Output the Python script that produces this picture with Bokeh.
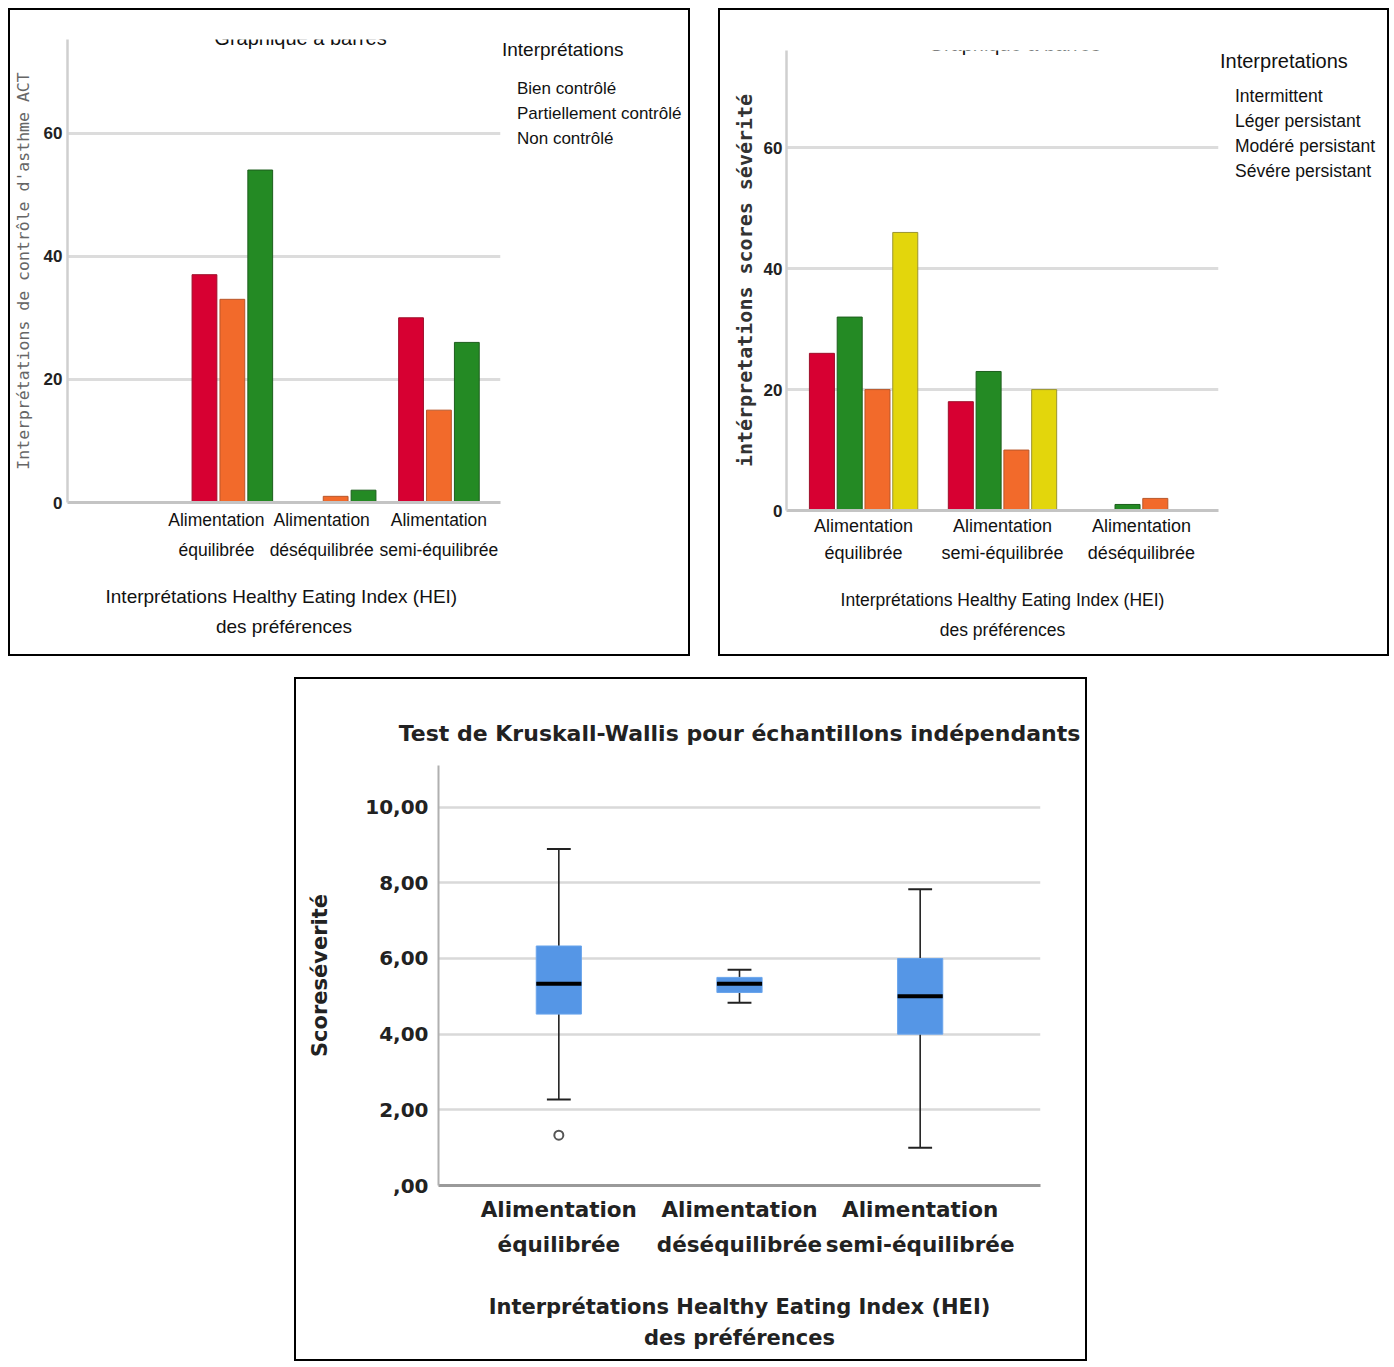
from bokeh.plotting import figure
from bokeh.models import (FactorRange, Range1d, Legend, LegendItem, Label,
                          FixedTicker, ColumnDataSource, Spacer)
from bokeh.layouts import column, row
from bokeh.transform import dodge
from bokeh.embed import file_html
from bokeh.resources import INLINE

# ---------------- data ----------------
# Chart 1 : ACT control interpretations
categories1 = ["Alimentation\néquilibrée", "Alimentation\ndéséquilibrée", "Alimentation\nsemi-équilibrée"]
series1 = ["Bien contrôlé", "Partiellement contrôlé", "Non contrôlé"]
bien_controle = [37, 0, 30]
partiellement_controle = [33, 1, 15]
non_controle = [54, 2, 26]
y_ticks1 = [0, 20, 40, 60]

# Chart 2 : severity score interpretations
categories2 = ["Alimentation\néquilibrée", "Alimentation\nsemi-équilibrée", "Alimentation\ndéséquilibrée"]
series2 = ["Intermittent", "Léger persistant", "Modéré persistant", "Sévére persistant"]
intermittent = [26, 18, 0]
leger_persistant = [32, 23, 1]
modere_persistant = [20, 10, 2]
severe_persistant = [46, 20, 0]
y_ticks2 = [0, 20, 40, 60]

# Chart 3 : Kruskal-Wallis boxplot
categories3 = ["Alimentation\néquilibrée", "Alimentation\ndéséquilibrée", "Alimentation\nsemi-équilibrée"]
whisker_low = [2.27, 4.83, 1.00]
quart1 = [4.53, 5.10, 4.00]
medians = [5.33, 5.33, 5.00]
quart3 = [6.33, 5.50, 6.00]
whisker_high = [8.89, 5.70, 7.83]
outlier_cats = ["Alimentation\néquilibrée"]
outlier_vals = [1.33]
y_ticks3 = [0, 2, 4, 6, 8, 10]
y_tick_labels3 = [",00", "2,00", "4,00", "6,00", "8,00", "10,00"]

# ---------------- styles ----------------
SANS = "'Liberation Sans'"
WIDEB = "'DejaVu Sans'"
MONO = "'DejaVu Sans Mono'"
RED, RED_L = "#D70032", "#9e0f2a"
ORANGE, ORANGE_L = "#F26A2B", "#b8572a"
GREEN, GREEN_L = "#248A24", "#1d5e1d"
YELLOW, YELLOW_L = "#E3D60C", "#9a9430"
BORDER = {"border": "2px solid #000"}
# chart 1: one empty slot before the three categories; label anchor positions (slot units)
PAD1 = 0.096
LABEL_POS1 = [1.346, 2.365, 3.5]


def style_common(p):
    p.outline_line_color = None
    p.xgrid.grid_line_color = None
    p.ygrid.grid_line_color = "#dcdcdc"
    p.ygrid.grid_line_width = 3
    p.yaxis.axis_line_color = "#cfcfcf"
    p.yaxis.axis_line_width = 2.5
    for ax in (p.xaxis, p.yaxis):
        ax.major_tick_line_color = None
        ax.minor_tick_line_color = None
        ax.major_tick_out = 0
        ax.major_tick_in = 0
    p.yaxis.major_label_text_font = SANS
    p.yaxis.major_label_text_font_style = "bold"
    p.yaxis.major_label_text_font_size = "17px"
    p.yaxis.major_label_text_color = "#222"


def style_xaxis(ax, tick_size, tick_lh, tick_standoff, lab_size, lab_lh, lab_standoff):
    ax.axis_line_color = "#c4c4c4"
    ax.axis_line_width = 3
    ax.major_label_text_font = SANS
    ax.major_label_text_font_size = tick_size
    ax.major_label_text_color = "#111"
    ax.major_label_text_line_height = tick_lh
    ax.major_label_standoff = tick_standoff
    ax.axis_label_text_font = SANS
    ax.axis_label_text_font_size = lab_size
    ax.axis_label_text_font_style = "normal"
    ax.axis_label_text_color = "#111"
    ax.axis_label_text_line_height = lab_lh
    ax.axis_label_standoff = lab_standoff


def legend_figure(width, height, top, names, colors, title, title_size, label_size,
                  label_h, standoff):
    """A bare figure beside the chart that only carries the legend."""
    f = figure(width=width, height=height, x_range=Range1d(0, 1), y_range=Range1d(0, 1),
               x_axis_type=None, y_axis_type=None, title=None,
               min_border_left=0, min_border_right=0, min_border_top=top, min_border_bottom=0,
               output_backend="svg", toolbar_location=None)
    f.outline_line_color = None
    items = []
    for name, (fc, lc) in zip(names, colors):
        r = f.vbar(x=[], top=[], width=0.1, fill_color=fc, line_color=lc)
        items.append(LegendItem(label=name, renderers=[r]))
    f.add_layout(Legend(items=items, location="top_left", title=title,
                        title_text_font=SANS, title_text_font_size=title_size,
                        title_text_font_style="normal", title_text_color="#111",
                        title_standoff=standoff,
                        label_text_font=SANS, label_text_font_size=label_size,
                        label_text_color="#111",
                        glyph_width=10, glyph_height=16, label_height=label_h,
                        label_standoff=5, spacing=4, padding=0, margin=0,
                        border_line_color=None, background_fill_alpha=0))
    return f


# ---------------- chart 1 ----------------
n_slots1 = len(categories1) + 1
p1 = figure(x_range=Range1d(-PAD1, n_slots1 + PAD1), y_range=Range1d(0, 75.2),
            width=492, height=644, title=None,
            min_border_left=54, min_border_right=2, min_border_top=16, min_border_bottom=152,
            output_backend="svg", toolbar_location=None)
style_common(p1)
slot_centers1 = [i + 1.5 for i in range(len(categories1))]
src1 = ColumnDataSource(dict(x=slot_centers1, a=bien_controle,
                             b=partiellement_controle, c=non_controle))
p1.vbar(x=dodge("x", -0.27), top="a", width=0.24, source=src1,
        fill_color=RED, line_color=RED_L, line_width=1)
p1.vbar(x=dodge("x", 0.0), top="b", width=0.24, source=src1,
        fill_color=ORANGE, line_color=ORANGE_L, line_width=1)
p1.vbar(x=dodge("x", 0.27), top="c", width=0.24, source=src1,
        fill_color=GREEN, line_color=GREEN_L, line_width=1)
p1.yaxis.ticker = FixedTicker(ticks=y_ticks1)
p1.ygrid.ticker = FixedTicker(ticks=y_ticks1)
p1.yaxis.major_label_standoff = 5
p1.yaxis.axis_label = "Interprétations de contrôle d'asthme ACT"
p1.yaxis.axis_label_text_font = MONO
p1.yaxis.axis_label_text_font_size = "16.5px"
p1.yaxis.axis_label_text_font_style = "normal"
p1.yaxis.axis_label_text_color = "#666"
p1.yaxis.axis_label_standoff = 8
p1.xaxis.ticker = FixedTicker(ticks=LABEL_POS1)
p1.xaxis.major_label_overrides = {pos: c for pos, c in zip(LABEL_POS1, categories1)}
style_xaxis(p1.xaxis[0], "17.5px", 1.53, 7, "19px", 1.41, 23)
p1.xaxis.axis_label = "Interprétations Healthy Eating Index  (HEI)\ndes préférences"
p1.add_layout(Label(x=233, y=465, x_units="screen", y_units="screen", text="Graphique à barres",
                    text_align="center", text_baseline="middle", text_font=SANS,
                    text_font_size="20px", text_color="#111"))
leg1 = legend_figure(186, 644, 29, series1,
                     [(RED, RED_L), (ORANGE, ORANGE_L), (GREEN, GREEN_L)],
                     "Interprétations", "19px", "17px", 21, 17)

# ---------------- chart 2 ----------------
p2 = figure(x_range=FactorRange(factors=categories2, range_padding=0.055,
                                range_padding_units="absolute"),
            y_range=Range1d(0, 76.1), width=500, height=644, title=None,
            min_border_left=66, min_border_right=2, min_border_top=22, min_border_bottom=144,
            output_backend="svg", toolbar_location=None)
style_common(p2)
src2 = ColumnDataSource(dict(cat=categories2, a=intermittent, b=leger_persistant,
                             c=modere_persistant, d=severe_persistant))
specs2 = [("a", -0.3, RED, RED_L), ("b", -0.1, GREEN, GREEN_L),
          ("c", 0.1, ORANGE, ORANGE_L), ("d", 0.3, YELLOW, YELLOW_L)]
for col, off, fc, lc in specs2:
    p2.vbar(x=dodge("cat", off, range=p2.x_range), top=col, width=0.18, source=src2,
            fill_color=fc, line_color=lc, line_width=1)
p2.yaxis.ticker = FixedTicker(ticks=y_ticks2)
p2.ygrid.ticker = FixedTicker(ticks=y_ticks2)
p2.yaxis.major_label_standoff = 4
p2.yaxis.axis_label = "intérpretations scores sévérité"
p2.yaxis.axis_label_text_font = MONO
p2.yaxis.axis_label_text_font_size = "20px"
p2.yaxis.axis_label_text_font_style = "bold"
p2.yaxis.axis_label_text_color = "#333"
p2.yaxis.axis_label_standoff = 4
style_xaxis(p2.xaxis[0], "18px", 1.39, 5, "17.5px", 1.48, 24)
p2.xaxis.axis_label = "Interprétations Healthy Eating Index (HEI)\ndes préférences"
p2.add_layout(Label(x=228, y=467, x_units="screen", y_units="screen", text="Graphique à barres",
                    text_align="center", text_baseline="middle", text_font=SANS,
                    text_font_size="20px", text_color="#111"))
leg2 = legend_figure(167, 644, 40, series2,
                     [(RED, RED_L), (GREEN, GREEN_L), (ORANGE, ORANGE_L), (YELLOW, YELLOW_L)],
                     "Interpretations", "20px", "17.5px", 20, 13)

# ---------------- chart 3 ----------------
p3 = figure(x_range=FactorRange(factors=categories3, range_padding=0.166,
                                range_padding_units="absolute"),
            y_range=Range1d(0, 11.1), width=793, height=684,
            title="Test de Kruskall-Wallis pour échantillons indépendants",
            min_border_left=142, min_border_right=49, min_border_top=86, min_border_bottom=178,
            output_backend="svg", toolbar_location=None, styles=BORDER)
p3.title.align = "center"
if hasattr(p3.title, "standoff"):
    p3.title.standoff = 40
p3.title.text_font = WIDEB
p3.title.text_font_style = "bold"
p3.title.text_font_size = "22px"
p3.title.text_color = "#222"
p3.outline_line_color = None
p3.xgrid.grid_line_color = None
p3.ygrid.grid_line_color = "#d9d9d9"
p3.ygrid.grid_line_width = 2.5
p3.xaxis.axis_line_color = "#9a9a9a"
p3.xaxis.axis_line_width = 3
p3.yaxis.axis_line_color = "#b0b0b0"
p3.yaxis.axis_line_width = 2
for ax in (p3.xaxis, p3.yaxis):
    ax.major_tick_line_color = None
    ax.minor_tick_line_color = None
    ax.major_tick_out = 0
    ax.major_tick_in = 0
p3.yaxis.ticker = FixedTicker(ticks=y_ticks3)
p3.ygrid.ticker = FixedTicker(ticks=y_ticks3)
p3.yaxis.major_label_overrides = {t: s for t, s in zip(y_ticks3, y_tick_labels3)}
p3.yaxis.major_label_text_font = WIDEB
p3.yaxis.major_label_text_font_style = "bold"
p3.yaxis.major_label_text_font_size = "20px"
p3.yaxis.major_label_text_color = "#222"
p3.yaxis.major_label_standoff = 10
p3.yaxis.axis_label = "Scoreséverité"
p3.yaxis.axis_label_text_font = WIDEB
p3.yaxis.axis_label_text_font_style = "bold"
p3.yaxis.axis_label_text_font_size = "21px"
p3.yaxis.axis_label_text_color = "#222"
p3.yaxis.axis_label_standoff = 30
p3.xaxis.major_label_text_font = WIDEB
p3.xaxis.major_label_text_font_style = "bold"
p3.xaxis.major_label_text_font_size = "21.5px"
p3.xaxis.major_label_text_color = "#222"
p3.xaxis.major_label_text_line_height = 1.40
p3.xaxis.major_label_standoff = 11
p3.xaxis.axis_label = "Interprétations Healthy Eating Index (HEI)\ndes préférences"
p3.xaxis.axis_label_text_font = WIDEB
p3.xaxis.axis_label_text_font_style = "bold"
p3.xaxis.axis_label_text_font_size = "21px"
p3.xaxis.axis_label_text_color = "#222"
p3.xaxis.axis_label_text_line_height = 1.32
p3.xaxis.axis_label_standoff = 35

src3 = ColumnDataSource(dict(cat=categories3, lo=whisker_low, q1=quart1, med=medians,
                             q3=quart3, hi=whisker_high))
p3.segment(x0="cat", y0="q3", x1="cat", y1="hi", source=src3, line_color="#222", line_width=1.6)
p3.segment(x0="cat", y0="lo", x1="cat", y1="q1", source=src3, line_color="#222", line_width=1.6)
p3.vbar(x="cat", bottom="q1", top="q3", width=0.25, source=src3,
        fill_color="#5596E6", line_color="#6aa5ec", line_width=1)
p3.segment(x0=dodge("cat", -0.125, range=p3.x_range), y0="med",
           x1=dodge("cat", 0.125, range=p3.x_range), y1="med",
           source=src3, line_color="#000", line_width=4)
for col in ("hi", "lo"):
    p3.segment(x0=dodge("cat", -0.066, range=p3.x_range), y0=col,
               x1=dodge("cat", 0.066, range=p3.x_range), y1=col,
               source=src3, line_color="#222", line_width=2)
p3.scatter(x=outlier_cats, y=outlier_vals, size=9, marker="circle", fill_color="white",
           line_color="#555", line_width=2)

panel1 = row(p1, leg1, styles=BORDER)
panel2 = row(p2, leg2, styles=BORDER)
layout = column(
    Spacer(width=10, height=8),
    row(Spacer(width=8, height=10), panel1, Spacer(width=28, height=10), panel2),
    Spacer(width=10, height=21),
    row(Spacer(width=294, height=10), p3),
)

open("out.html", "w").write(file_html(layout, INLINE))
